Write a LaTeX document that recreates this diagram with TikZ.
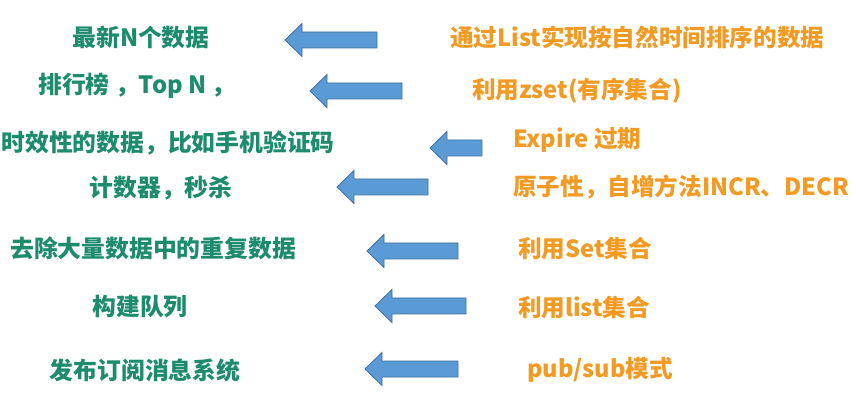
\documentclass[tikz,border=0pt]{standalone}
\usepackage{fontspec}
\setmainfont{Noto Sans CJK SC}
\usetikzlibrary{positioning}
\definecolor{usegreen}{HTML}{1C8C6C}
\definecolor{howorange}{HTML}{F29A22}
\definecolor{arrowblue}{HTML}{5B9BD5}
\definecolor{arrowedge}{HTML}{41719C}
\tikzset{
  usetext/.style={text=usegreen,font=\fontsize{23.8}{28}\selectfont\bfseries,inner sep=0pt},
  howtext/.style={text=howorange,font=\fontsize{23.6}{28}\selectfont\bfseries,inner sep=0pt,anchor=west},
  blockarr/.style={fill=arrowblue,draw=arrowedge,line width=0.8pt,line join=miter}
}

\begin{document}
\begin{tikzpicture}[x=1pt,y=-1pt]
  \useasboundingbox[fill=white] (0,0) rectangle (862,403);
  % what it is used for
  \node[usetext] (use1) at (141,37) {最新N个数据};
  \node[usetext] (use2) at (137,86) {排行榜 ，Top N ，};
  \node[usetext] (use3) at (168,143) {时效性的数据，比如手机验证码};
  \node[usetext] (use4) at (161,188) {计数器，秒杀};
  \node[usetext] (use5) at (153,248) {去除大量数据中的重复数据};
  \node[usetext] (use6) at (140,307) {构建队列};
  \node[usetext] (use7) at (145,370) {发布订阅消息系统};
  % how it is done
  \node[howtext] (how1) at (450,37) {通过List实现按自然时间排序的数据};
  \node[howtext] (how2) at (472,91) {利用zset(有序集合)};
  \node[howtext] (how3) at (513,140) {Expire 过期};
  \node[howtext] (how4) at (513,187) {原子性，自增方法INCR、DECR};
  \node[howtext] (how5) at (518,249) {利用Set集合};
  \node[howtext] (how6) at (518,308) {利用list集合};
  \node[howtext] (how7) at (527,370) {pub/sub模式};
  % block arrows, tip/tail/middle
  \foreach \tip/\tail/\yc in {285/377/40,310/402/91,430/482/148,337/428/187,
                              367/458/251,375/466/306,365/458/369} {
    \draw[blockarr] (\tip,\yc) -- ({\tip+17},{\yc-16.5}) -- ({\tip+17},{\yc-8})
      -- (\tail,{\yc-8}) -- (\tail,{\yc+8}) -- ({\tip+17},{\yc+8})
      -- ({\tip+17},{\yc+16.5}) -- cycle;
  }
\end{tikzpicture}
\end{document}
